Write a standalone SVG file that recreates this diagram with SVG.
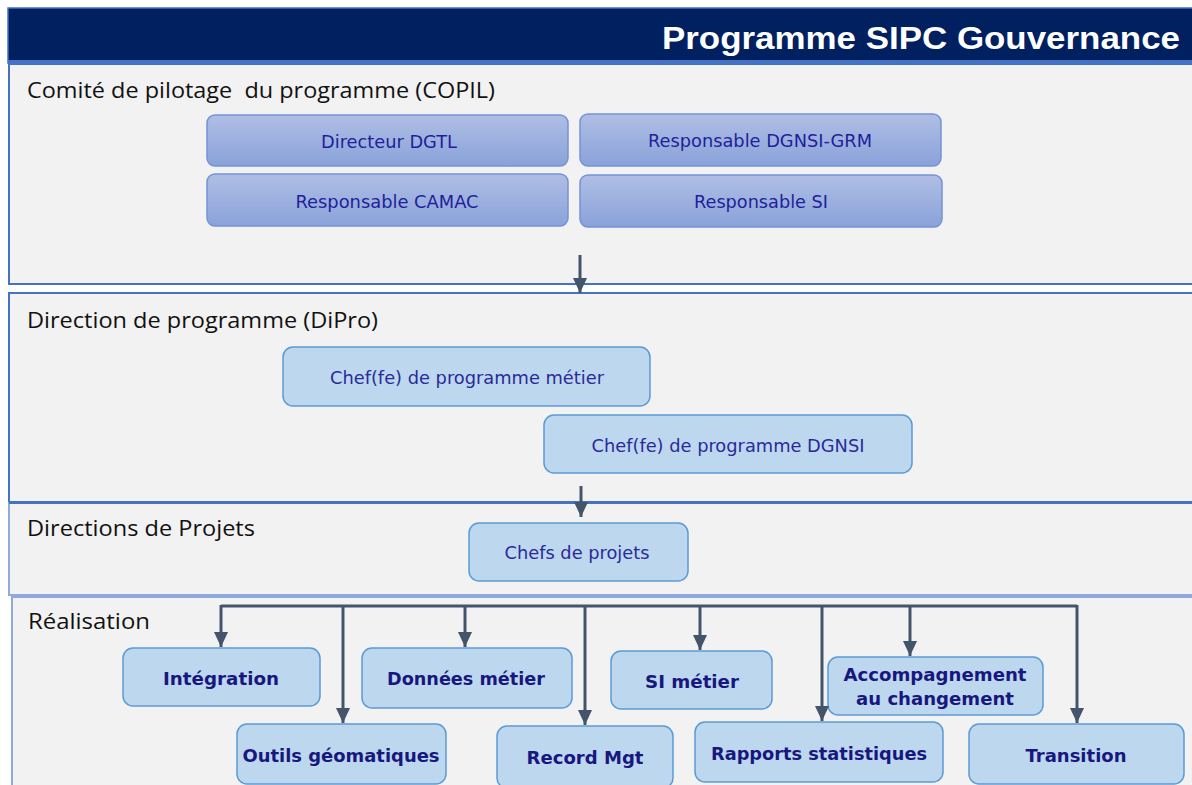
<svg xmlns="http://www.w3.org/2000/svg" width="1192" height="785" viewBox="0 0 1192 785">
<defs>
<linearGradient id="gCopil" x1="0" y1="0" x2="0" y2="1">
<stop offset="0" stop-color="#afbee4"/>
<stop offset="1" stop-color="#8aa2da"/>
</linearGradient>
<marker id="ah" markerUnits="userSpaceOnUse" markerWidth="16" markerHeight="16" viewBox="0 0 16 16" refX="15" refY="8" orient="auto">
<path d="M0,1 L15,8 L0,15 z" fill="#44546a"/>
</marker>
<style>
.panel{fill:#f2f2f2;stroke:#4472c4;stroke-width:2}
.panelL{fill:#f2f2f2;stroke:#8faadc;stroke-width:2}
.ptitle{font-family:"Open Sans","Liberation Sans",sans-serif;font-size:22px;fill:#111}
.copil{fill:url(#gCopil);stroke:#7393d8;stroke-width:1.5}
.copilT{font-family:"DejaVu Sans","Liberation Sans",sans-serif;font-size:18px;fill:#1f1f9a;text-anchor:middle}
.box{fill:#bdd7ee;stroke:#5b9bd5;stroke-width:1.5}
.boxT{font-family:"DejaVu Sans","Liberation Sans",sans-serif;font-size:18px;fill:#2a2a9a;text-anchor:middle}
.realT{font-family:"DejaVu Sans","Liberation Sans",sans-serif;font-size:18px;font-weight:bold;fill:#17177f;text-anchor:middle}
.conn{fill:none;stroke:#44546a;stroke-width:3}
</style>
</defs>
<rect width="1192" height="785" fill="#ffffff"/>

<g id="header">
<rect x="8" y="8" width="1190" height="55" fill="#002060" stroke="#4472c4" stroke-width="1.5"/>
<rect x="8" y="60" width="1190" height="4" fill="#4472c4"/>
<text x="1180" y="49" text-anchor="end" font-family="Liberation Sans, Arial, sans-serif" font-size="31" font-weight="bold" fill="#ffffff" textLength="518" lengthAdjust="spacingAndGlyphs">Programme SIPC Gouvernance</text>
</g>

<g id="panel-copil">
<rect class="panel" x="9" y="64" width="1190" height="220"/>
<text class="ptitle" x="27" y="98" textLength="468" lengthAdjust="spacingAndGlyphs" xml:space="preserve">Comité de pilotage  du programme (COPIL)</text>
</g>
<g id="panel-dipro">
<rect class="panel" x="9" y="293" width="1190" height="209"/>
<text class="ptitle" x="27" y="328" textLength="351" lengthAdjust="spacingAndGlyphs">Direction de programme (DiPro)</text>
</g>
<g id="panel-projets">
<rect class="panelL" x="9" y="503" width="1190" height="92"/>
<line x1="9" y1="503" x2="1192" y2="503" stroke="#4472c4" stroke-width="2"/>
<text class="ptitle" x="27" y="536" textLength="228" lengthAdjust="spacingAndGlyphs">Directions de Projets</text>
</g>
<g id="panel-realisation">
<rect class="panelL" x="12" y="597" width="1190" height="200"/>
<text class="ptitle" x="28" y="629" textLength="122" lengthAdjust="spacingAndGlyphs">Réalisation</text>
</g>

<g id="n-directeur-dgtl">
<rect class="copil" x="207" y="115" width="361" height="51" rx="8"/>
<text class="copilT" x="389" y="148" textLength="136" lengthAdjust="spacingAndGlyphs">Directeur DGTL</text>
</g>
<g id="n-resp-dgnsi-grm">
<rect class="copil" x="580" y="114" width="361" height="52" rx="8"/>
<text class="copilT" x="760" y="147" textLength="224" lengthAdjust="spacingAndGlyphs">Responsable DGNSI-GRM</text>
</g>
<g id="n-resp-camac">
<rect class="copil" x="207" y="174" width="361" height="52" rx="8"/>
<text class="copilT" x="387" y="208" textLength="183" lengthAdjust="spacingAndGlyphs">Responsable CAMAC</text>
</g>
<g id="n-resp-si">
<rect class="copil" x="580" y="175" width="362" height="52" rx="8"/>
<text class="copilT" x="761" y="208" textLength="134" lengthAdjust="spacingAndGlyphs">Responsable SI</text>
</g>

<g id="n-chef-metier">
<rect class="box" x="283" y="347" width="367" height="59" rx="10"/>
<text class="boxT" x="467" y="384" textLength="274" lengthAdjust="spacingAndGlyphs">Chef(fe) de programme métier</text>
</g>
<g id="n-chef-dgnsi">
<rect class="box" x="544" y="415" width="368" height="58" rx="10"/>
<text class="boxT" x="728" y="452" textLength="273" lengthAdjust="spacingAndGlyphs">Chef(fe) de programme DGNSI</text>
</g>
<g id="n-chefs-projets">
<rect class="box" x="469" y="523" width="219" height="58" rx="10"/>
<text class="boxT" x="577" y="559" textLength="145" lengthAdjust="spacingAndGlyphs">Chefs de projets</text>
</g>

<g id="n-integration">
<rect class="box" x="123" y="648" width="197" height="58" rx="10"/>
<text class="realT" x="221" y="685" textLength="116" lengthAdjust="spacingAndGlyphs">Intégration</text>
</g>
<g id="n-outils">
<rect class="box" x="237" y="724" width="209" height="60" rx="10"/>
<text class="realT" x="341" y="762" textLength="197" lengthAdjust="spacingAndGlyphs">Outils géomatiques</text>
</g>
<g id="n-donnees">
<rect class="box" x="362" y="648" width="210" height="60" rx="10"/>
<text class="realT" x="466" y="685" textLength="158" lengthAdjust="spacingAndGlyphs">Données métier</text>
</g>
<g id="n-record">
<rect class="box" x="497" y="726" width="176" height="62" rx="10"/>
<text class="realT" x="585" y="764" textLength="117" lengthAdjust="spacingAndGlyphs">Record Mgt</text>
</g>
<g id="n-si-metier">
<rect class="box" x="611" y="651" width="161" height="58" rx="10"/>
<text class="realT" x="692" y="688" textLength="94" lengthAdjust="spacingAndGlyphs">SI métier</text>
</g>
<g id="n-rapports">
<rect class="box" x="695" y="722" width="248" height="60" rx="10"/>
<text class="realT" x="819" y="760" textLength="216" lengthAdjust="spacingAndGlyphs">Rapports statistiques</text>
</g>
<g id="n-accompagnement">
<rect class="box" x="828" y="657" width="215" height="58" rx="10"/>
<text class="realT" x="935" y="681" textLength="183" lengthAdjust="spacingAndGlyphs">Accompagnement</text>
<text class="realT" x="935" y="705" textLength="158" lengthAdjust="spacingAndGlyphs">au changement</text>
</g>
<g id="n-transition">
<rect class="box" x="969" y="724" width="215" height="60" rx="10"/>
<text class="realT" x="1076" y="762" textLength="101" lengthAdjust="spacingAndGlyphs">Transition</text>
</g>

<g id="connectors">
<line class="conn" x1="580" y1="255" x2="580" y2="293" marker-end="url(#ah)"/>
<line class="conn" x1="581" y1="486" x2="581" y2="517" marker-end="url(#ah)"/>
<polyline class="conn" points="221,606 1077,606"/>
<line class="conn" x1="221" y1="605" x2="221" y2="647" marker-end="url(#ah)"/>
<line class="conn" x1="343" y1="605" x2="343" y2="723" marker-end="url(#ah)"/>
<line class="conn" x1="465" y1="605" x2="465" y2="647" marker-end="url(#ah)"/>
<line class="conn" x1="585" y1="605" x2="585" y2="725" marker-end="url(#ah)"/>
<line class="conn" x1="700" y1="605" x2="700" y2="650" marker-end="url(#ah)"/>
<line class="conn" x1="822" y1="605" x2="822" y2="721" marker-end="url(#ah)"/>
<line class="conn" x1="910" y1="605" x2="910" y2="656" marker-end="url(#ah)"/>
<line class="conn" x1="1077" y1="605" x2="1077" y2="723" marker-end="url(#ah)"/>
</g>
</svg>
